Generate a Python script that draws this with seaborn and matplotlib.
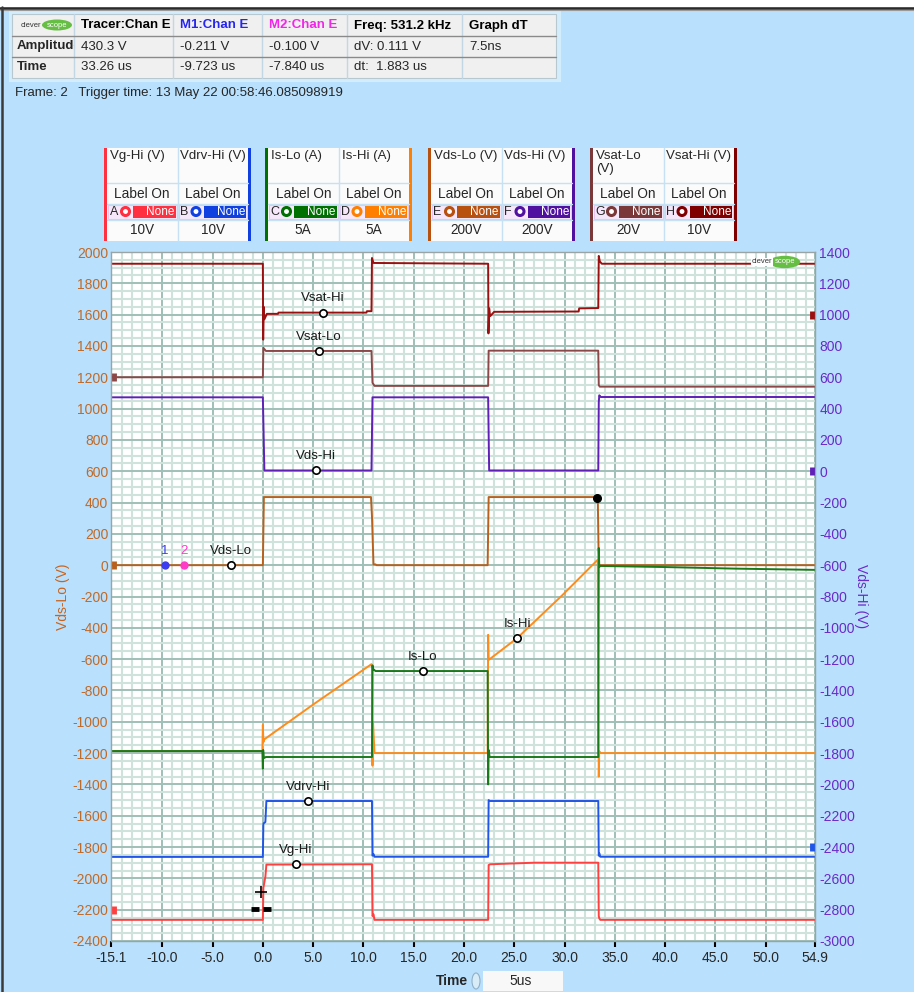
import matplotlib
matplotlib.use("Agg")
import matplotlib.pyplot as plt
import matplotlib.patches as mpatches
import matplotlib.transforms as mtransforms
import seaborn as sns

sns.set_style("white")
plt.rcParams["font.family"] = ["Liberation Sans", "DejaVu Sans"]

# --------------------------------------------------
# Trace data (time in us, value in left-axis units)
# --------------------------------------------------
vsat_hi_t = [-15.1, 0.0, 0.03, 0.08, 0.15, 0.4, 1.5, 1.55, 10.3, 10.35, 10.8, 10.85, 11.0,
             22.4, 22.43, 22.5, 22.6, 23.0, 31.4, 31.45, 33.35, 33.4, 33.5, 33.7, 54.9]
vsat_hi_v = [1925, 1925, 1440, 1650, 1570, 1605, 1605, 1613, 1613, 1622, 1622, 1962, 1930,
             1925, 1480, 1640, 1590, 1618, 1620, 1640, 1642, 1975, 1940, 1925, 1925]

vsat_lo_t = [-15.1, 0.0, 0.05, 0.3, 10.8, 10.9, 11.1, 22.4, 22.45, 33.35, 33.4, 33.5, 54.9]
vsat_lo_v = [1200, 1200, 1388, 1368, 1368, 1165, 1145, 1145, 1370, 1370, 1150, 1140, 1140]

vds_hi_t = [-15.1, 0.0, 0.15, 10.8, 10.9, 22.4, 22.5, 33.35, 33.4, 33.45, 33.6, 54.9]
vds_hi_v = [1072, 1072, 605, 605, 1072, 1072, 605, 605, 1040, 1085, 1074, 1074]

vds_lo_t = [-15.1, 0.0, 0.1, 10.75, 10.85, 11.0, 11.2, 11.3, 22.35, 22.45, 33.3, 33.4, 54.9]
vds_lo_v = [0, 0, 435, 435, 310, 5, 5, 0, 0, 435, 435, 0, 0]

is_hi_t = [-15.1, -0.05, 0.0, 0.05, 0.15, 5.0, 10.8, 10.85, 10.9, 10.95, 11.1, 22.35, 22.4,
           22.45, 25.3, 29.8, 33.3, 33.35, 33.4, 33.45, 33.6, 54.9]
is_hi_v = [-1187, -1187, -1020, -1130, -1112, -890, -632, -640, -1280, -1000, -1200, -1200, -445,
           -605, -465, -190, 35, -820, -1350, -1190, -1200, -1200]

is_lo_t = [-15.1, -0.05, 0.0, 0.03, 0.1, 0.3, 10.85, 10.9, 10.95, 11.2, 22.35, 22.4, 22.45,
           22.55, 33.35, 33.4, 33.45, 33.6, 40.0, 47.0, 54.9]
is_lo_v = [-1187, -1187, -1300, -1180, -1232, -1225, -1225, -640, -662, -676, -676, -1400, -1180,
           -1225, -1225, 110, -10, -5, -12, -22, -30]

vdrv_hi_t = [-15.1, 0.0, 0.05, 0.25, 0.35, 10.85, 10.9, 11.0, 11.1, 22.4, 22.45, 22.55,
             33.35, 33.4, 33.45, 33.55, 54.9]
vdrv_hi_v = [-1863, -1863, -1650, -1640, -1506, -1506, -1855, -1845, -1862, -1862, -1500, -1506,
             -1506, -1855, -1840, -1862, -1862]

vg_hi_t = [-15.1, 0.0, 0.05, 0.25, 0.35, 10.85, 10.9, 11.0, 11.1, 22.4, 22.45, 22.6, 27.0,
           33.35, 33.4, 33.45, 33.55, 54.9]
vg_hi_v = [-2265, -2265, -2060, -1990, -1912, -1910, -2240, -2230, -2265, -2265, -1915, -1910, -1900,
           -1900, -2240, -2255, -2265, -2265]

# trace labels and their marker positions
ann_labels = ["Vsat-Hi", "Vsat-Lo", "Vds-Hi", "Vds-Lo", "Is-Lo", "Is-Hi", "Vdrv-Hi", "Vg-Hi"]
ann_t = [6.0, 5.6, 5.3, -3.2, 15.9, 25.3, 4.5, 3.3]
ann_v = [1613, 1368, 605, 0, -676, -465, -1506, -1910]

# cursors
cursor_labels = ["1", "2"]
cursor_t = [-9.723, -7.84]
cursor_v = [0, 0]
tracer_t = [33.26]
tracer_v = [430.3]
cross_t = [-0.15]
cross_v = [-2085]
bracket_t = [-0.75, 0.45]
bracket_v = [-2195, -2195]

# channel offset markers (left-axis units)
left_offsets = [1200, 0, -2200]
right_offsets = [1600, 600, -1800]

# axis ticks
x_ticks = [-15.1, -10.0, -5.0, 0.0, 5.0, 10.0, 15.0, 20.0, 25.0, 30.0, 35.0, 40.0, 45.0, 50.0, 54.9]
left_ticks = list(range(-2400, 2001, 200))
right_ticks = list(range(-3000, 1401, 200))

# channel panel
channel_names = ["Vg-Hi (V)", "Vdrv-Hi (V)", "Is-Lo (A)", "Is-Hi (A)",
                 "Vds-Lo (V)", "Vds-Hi (V)", "Vsat-Lo\n(V)", "Vsat-Hi (V)"]
channel_letters = ["A", "B", "C", "D", "E", "F", "G", "H"]
channel_scales = ["10V", "10V", "5A", "5A", "200V", "200V", "20V", "10V"]

# readout table
table_header = ["Tracer:Chan E", "M1:Chan E", "M2:Chan E", "Freq: 531.2 kHz", "Graph dT"]
table_rows = ["Amplitude", "Time"]
table_amplitude = ["430.3 V", "-0.211 V", "-0.100 V", "dV: 0.111 V", "7.5ns"]
table_time = ["33.26 us", "-9.723 us", "-7.840 us", "dt:  1.883 us", ""]

# --------------------------------------------------
# Colours
# --------------------------------------------------
BG = "#B9E0FD"
C_VG = "#FF4040"
C_VDRV = "#1F56E8"
C_ISLO = "#1A7A1A"
C_ISHI = "#FF8C1A"
C_VDSLO = "#B8611E"
C_VDSHI = "#6020B8"
C_VSATLO = "#8C4848"
C_VSATHI = "#9A1010"
badge_colors = ["#FF3040", "#1040E0", "#007000", "#FF8000", "#B85010", "#5010A0", "#7A3838", "#800000"]

fig = plt.figure(figsize=(9.14, 9.92), dpi=100)
fig.patch.set_facecolor(BG)

# background layer in pixel coordinates
bg = fig.add_axes([0, 0, 1, 1], zorder=0)
bg.set_xlim(0, 914)
bg.set_ylim(992, 0)
bg.axis("off")


def rect(x, y, w, h, **kw):
    p = mpatches.Rectangle((x, y), w, h, **kw)
    bg.add_patch(p)
    return p


# window frame
rect(0, 0, 914, 6.5, facecolor="white", edgecolor="none")
bg.plot([0, 914], [7.5, 7.5], color="#2A2A2A", lw=1.8)
bg.plot([0, 914], [9.5, 9.5], color="#9A9A9A", lw=0.8)
bg.plot([1.5, 1.5], [7, 992], color="#3A3A3A", lw=1.8)

# --------------------------------------------------
# Readout table
# --------------------------------------------------
rect(9, 11, 552, 71, facecolor="#D4EDFC", edgecolor="none")
rect(12, 14, 544, 64, facecolor="#F0F0F0", edgecolor="#B8C8D0", lw=0.8)
col_x = [12, 74, 173, 262, 347, 462, 556]

# first column labels go under the second column (they overflow a little)
for r, name in enumerate(table_rows):
    bg.text(17, 46.5 + r * 21, name, fontsize=9.5, fontweight="bold", va="center", zorder=1)
rect(74.5, 36.5, 98, 41, facecolor="#F0F0F0", edgecolor="none", zorder=2)

for x in col_x[1:-1]:
    bg.plot([x, x], [14, 78], color="#C2D6E4", lw=1, zorder=3)
for y in [36, 57]:
    bg.plot([12, 556], [y, y], color="#8A8A8A", lw=1, zorder=3)

# logo in corner cell
bg.add_patch(mpatches.Ellipse((57, 25), 30, 11, facecolor="#66BE44", edgecolor="none"))
bg.text(31, 25.5, "clever", fontsize=5.5, color="#333333", ha="center", va="center")
bg.text(57, 25.5, "scope", fontsize=5.5, color="white", ha="center", va="center")

header_colors = ["black", "#2626F0", "#F026E8", "black", "black"]
for i, txt in enumerate(table_header):
    bg.text(col_x[i + 1] + 7, 25.5, txt, fontsize=9.5, fontweight="bold",
            color=header_colors[i], va="center", zorder=4)
for r, vals in enumerate([table_amplitude, table_time]):
    yc = 46.5 + r * 21
    for i, v in enumerate(vals):
        bg.text(col_x[i + 1] + 7, yc, v, fontsize=9.5, va="center", zorder=4)

bg.text(15, 93, "Frame: 2   Trigger time: 13 May 22 00:58:46.085098919", fontsize=9.5, va="center")

# --------------------------------------------------
# Channel panel
# --------------------------------------------------
group_left = [104, 265, 428, 590]
group_w = 147
for g, gx in enumerate(group_left):
    rect(gx, 148, group_w, 93, facecolor="#FBFBFB", edgecolor="none")
    half = (group_w - 6) / 2
    for y in [183, 203.5, 219.5]:
        bg.plot([gx + 3, gx + group_w - 3], [y, y], color="#C6E0F4", lw=1)
    bg.plot([gx + 3 + half, gx + 3 + half], [148, 241], color="#C6E0F4", lw=1)
    for k in range(2):
        ch = g * 2 + k
        cx = gx + 3 + k * half
        bg.text(cx + 3, 150, channel_names[ch], fontsize=9.5, va="top", ha="left", linespacing=1.15)
        bg.text(cx + half / 2, 193.5, "Label On", fontsize=9.8, ha="center", va="center")
        rect(cx + 1, 204.5, half - 2, 14, facecolor="#F6E8FA", edgecolor="#E2C8F0", lw=0.8)
        bg.text(cx + 2.5, 211.8, channel_letters[ch], fontsize=9, va="center")
        bg.add_patch(mpatches.Circle((cx + 18.5, 211.5), 4.0, facecolor="white",
                                     edgecolor=badge_colors[ch], lw=2.2))
        rect(cx + 26, 205.5, half - 28, 12.5, facecolor=badge_colors[ch], edgecolor="none")
        bg.text(cx + half - 3, 211.8, "None", fontsize=8.5, color="white", ha="right", va="center")
        bg.text(cx + half / 2, 230, channel_scales[ch], fontsize=9.8, ha="center", va="center")
    rect(gx, 148, 3, 93, facecolor=badge_colors[g * 2], edgecolor="none")
    rect(gx + group_w - 3, 148, 3, 93, facecolor=badge_colors[g * 2 + 1], edgecolor="none")

# --------------------------------------------------
# Main scope plot
# --------------------------------------------------
ax = fig.add_axes([111 / 914, 1 - 941 / 992, 704 / 914, 689 / 992], zorder=2)
ax.set_facecolor("white")
ax.set_xlim(-15.1, 54.9)
ax.set_ylim(-2400, 2000)
ax.set_axisbelow(True)

ax.set_xticks([v for v in range(-15, 55) if v % 5 != 0], minor=True)
ax.set_yticks(list(range(-2400, 2001, 50)), minor=True)
ax.grid(which="minor", color="#CFE2DC", lw=1.5)
ax.grid(which="major", color="#9FC0B7", lw=1.4)

ax.set_xticks(x_ticks)
ax.set_xticklabels([f"{v:.1f}" for v in x_ticks], fontsize=10)
ax.set_yticks(left_ticks)
ax.set_yticklabels([str(v) for v in left_ticks], fontsize=10, color="#C06A28")
ax.tick_params(axis="x", which="major", bottom=True, length=4, width=1.5, color="black", pad=3)
ax.tick_params(axis="x", which="minor", bottom=False)
ax.tick_params(axis="y", which="both", left=False, length=0, pad=2)
for s in ax.spines.values():
    s.set_color("#9AA4A4")
    s.set_linewidth(1)
ax.set_ylabel("Vds-Lo (V)", color="#C8641E", fontsize=10, labelpad=2)

traces = [
    (vsat_lo_t, vsat_lo_v, C_VSATLO),
    (vsat_hi_t, vsat_hi_v, C_VSATHI),
    (vds_hi_t, vds_hi_v, C_VDSHI),
    (vds_lo_t, vds_lo_v, C_VDSLO),
    (is_hi_t, is_hi_v, C_ISHI),
    (is_lo_t, is_lo_v, C_ISLO),
    (vdrv_hi_t, vdrv_hi_v, C_VDRV),
    (vg_hi_t, vg_hi_v, C_VG),
]
for t, v, c in traces:
    sns.lineplot(x=t, y=v, ax=ax, color=c, linewidth=1.4, sort=False,
                 estimator=None, legend=False)

# trace labels
sns.scatterplot(x=ann_t, y=ann_v, ax=ax, s=28, facecolor="white", edgecolor="black",
                linewidth=1.2, zorder=5, legend=False)
for lab, t, v in zip(ann_labels, ann_t, ann_v):
    ax.annotate(lab, (t, v), xytext=(0, 6), textcoords="offset points",
                ha="center", va="bottom", fontsize=9.5, color="#1A1A1A")

# cursors
cursor_colors = ["#3C3CF0", "#FF3CC8"]
for lab, t, v, c in zip(cursor_labels, cursor_t, cursor_v, cursor_colors):
    ax.plot(t, v, "o", color=c, ms=5, zorder=6)
    ax.annotate(lab, (t, v), xytext=(0, 6), textcoords="offset points",
                ha="center", va="bottom", fontsize=9.5, color=c)
ax.plot(tracer_t, tracer_v, "o", color="black", ms=5.5, zorder=6)
ax.plot(cross_t, cross_v, "+", color="black", ms=8, mew=1.2, zorder=6)
ax.plot(bracket_t, bracket_v, "_", color="black", ms=6, mew=3.5, ls="none", zorder=6)

# channel offset markers on the edges
left_colors = [C_VSATLO, C_VDSLO, C_VG]
right_colors = [C_VSATHI, C_VDSHI, C_VDRV]
edge = mtransforms.blended_transform_factory(ax.transAxes, ax.transData)
for v, c in zip(left_offsets, left_colors):
    ax.plot([0.004], [v], "|", color=c, ms=6, mew=3.5, transform=edge, zorder=6)
for v, c in zip(right_offsets, right_colors):
    ax.plot([0.996], [v], "|", color=c, ms=6, mew=3.5, transform=edge, zorder=6)

# logo in the plot corner
ax.add_patch(mpatches.Ellipse((0.957, 0.9855), 0.044, 0.018, transform=ax.transAxes,
                              facecolor="#66BE44", edgecolor="none", zorder=7))
ax.text(0.925, 0.9855, "clever", transform=ax.transAxes, fontsize=5.5, color="#333333",
        ha="center", va="center", zorder=8,
        bbox=dict(facecolor="white", edgecolor="none", pad=0.5))
ax.text(0.957, 0.9855, "scope", transform=ax.transAxes, fontsize=5.5, color="white",
        ha="center", va="center", zorder=8)

# right axis (Vds-Hi)
ax2 = ax.twinx()
ax2.set_ylim(-3000, 1400)
ax2.set_yticks(right_ticks)
ax2.set_yticklabels([str(v) for v in right_ticks], fontsize=10, color="#6A2BC8")
ax2.tick_params(axis="y", right=False, length=0, pad=3)
ax2.grid(False)
for s in ax2.spines.values():
    s.set_visible(False)
ax2.set_ylabel("Vds-Hi (V)", color="#6A2BC8", fontsize=10, rotation=270, labelpad=9)

# --------------------------------------------------
# Time base control
# --------------------------------------------------
bg.text(452, 981, "Time", fontsize=10, fontweight="bold", ha="center", va="center")
bg.add_patch(mpatches.Ellipse((476, 981), 8, 16, facecolor="#D8ECF8", edgecolor="#90B0C8", lw=0.8))
rect(483, 971, 80, 20, facecolor="#F8F8F8", edgecolor="none")
bg.text(521, 981, "5us", fontsize=10, ha="center", va="center")

fig.savefig("out.png", dpi=100, facecolor=fig.get_facecolor())
